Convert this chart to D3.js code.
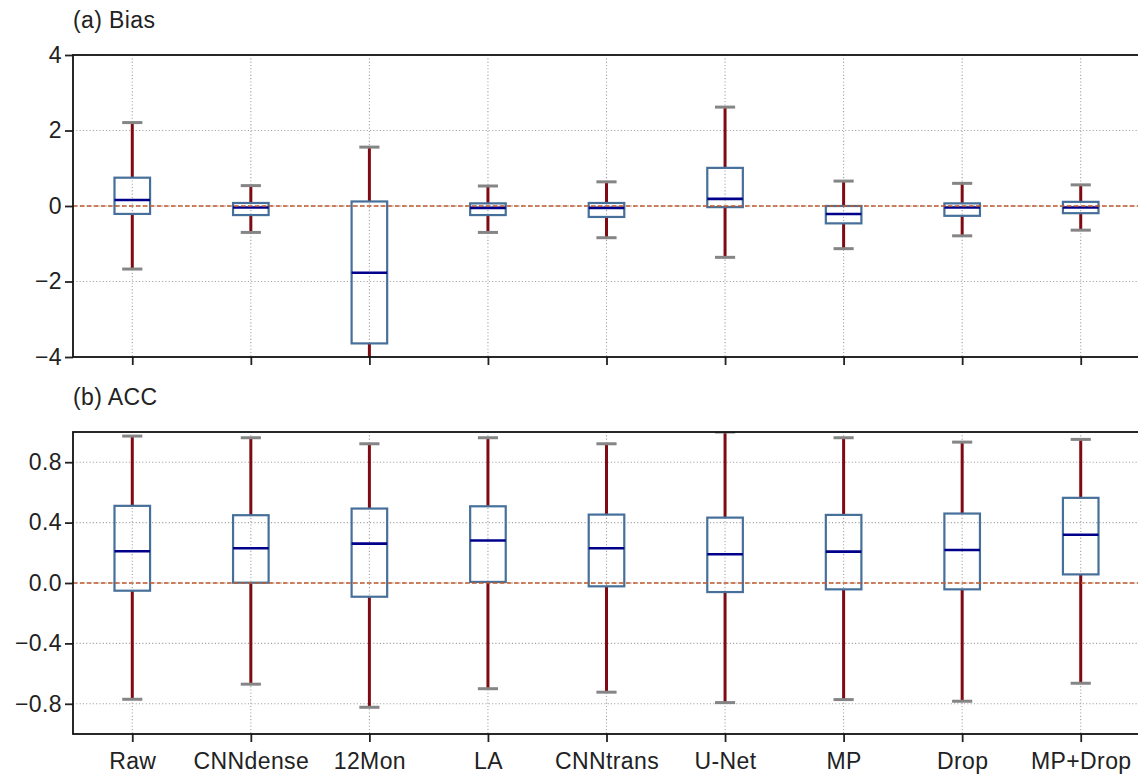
<!DOCTYPE html>
<html>
<head>
<meta charset="utf-8">
<script src="https://cdn.jsdelivr.net/npm/d3@7"></script>
<style>
	body { margin: 0; background: #fff; }
	svg { display: block; font-family: "Liberation Sans", Arial, sans-serif; }
</style>
</head>
<body>
<div id="graph"></div>
<script>
//model names along the x axis
var categories = ["Raw", "CNNdense", "12Mon", "LA", "CNNtrans", "U-Net", "MP", "Drop", "MP+Drop"];

//(a) Bias: lower whisker, quartiles, median, upper whisker
var biasLow  = [-1.67, -0.70, -5.20, -0.70, -0.84, -1.36, -1.13, -0.79, -0.64];
var biasQ1   = [-0.21, -0.24, -3.64, -0.24, -0.29, -0.03, -0.46, -0.26, -0.19];
var biasMed  = [ 0.16, -0.04, -1.77, -0.05, -0.05,  0.19, -0.21, -0.04, -0.04];
var biasQ3   = [ 0.75,  0.08,  0.12,  0.07,  0.08,  1.01,  0.00,  0.07,  0.11];
var biasHigh = [ 2.21,  0.54,  1.56,  0.53,  0.64,  2.62,  0.66,  0.60,  0.56];
var biasTicks = [-4, -2, 0, 2, 4];

//(b) ACC
var accLow  = [-0.770, -0.670, -0.823, -0.700, -0.723, -0.792, -0.772, -0.783, -0.664];
var accQ1   = [-0.051,  0.002, -0.091,  0.007, -0.022, -0.060, -0.042, -0.042,  0.057];
var accMed  = [ 0.210,  0.230,  0.261,  0.281,  0.230,  0.190,  0.208,  0.219,  0.320];
var accQ3   = [ 0.511,  0.449,  0.493,  0.508,  0.453,  0.433,  0.451,  0.460,  0.564];
var accHigh = [ 0.973,  0.962,  0.922,  0.962,  0.922,  1.000,  0.962,  0.933,  0.951];
var accTicks = [-0.8, -0.4, 0, 0.4, 0.8];

(function(){
	"use strict";

	var W = 1138, H = 776;
	var left = 73, right = 1140;
	var fontSize = 23;

	var svg = d3.select("#graph").append("svg")
		.attr("width", W)
		.attr("height", H);

	//same x positions for both panels
	var x = d3.scalePoint()
		.domain(categories)
		.range([left, right])
		.padding(0.5);
	var boxW = x.step() * 0.3;
	var capW = x.step() * 0.17;

	function panel(id, top, bottom, domain, ticks, fmt, title, low, q1, med, q3, high, showLabels) {
		var y = d3.scaleLinear().domain(domain).range([bottom, top]);
		var g = svg.append("g").attr("class", "panel-" + id);

		g.append("clipPath").attr("id", "clip-" + id)
			.append("rect")
			.attr("x", left).attr("y", top)
			.attr("width", right - left).attr("height", bottom - top);

		var plot = g.append("g").attr("clip-path", "url(#clip-" + id + ")");

		//dotted grid
		plot.selectAll(".hgrid")
			.data(ticks)
			.enter().append("line")
			.attr("x1", left).attr("x2", right)
			.attr("y1", function(d) { return y(d); })
			.attr("y2", function(d) { return y(d); })
			.attr("stroke", "#a0a0a0")
			.attr("stroke-width", 1.1)
			.attr("stroke-dasharray", "1.1,2.2");
		plot.selectAll(".vgrid")
			.data(categories)
			.enter().append("line")
			.attr("x1", function(d) { return x(d); })
			.attr("x2", function(d) { return x(d); })
			.attr("y1", top).attr("y2", bottom)
			.attr("stroke", "#a0a0a0")
			.attr("stroke-width", 1.1)
			.attr("stroke-dasharray", "1.1,2.2");

		var idx = d3.range(categories.length);
		var cx = function(i) { return x(categories[i]); };

		//whiskers from box to caps
		plot.selectAll(".whisk-lo")
			.data(idx)
			.enter().append("line")
			.attr("x1", cx).attr("x2", cx)
			.attr("y1", function(i) { return y(q1[i]); })
			.attr("y2", function(i) { return y(low[i]); })
			.attr("stroke", "#7f0a12")
			.attr("stroke-width", 3);
		plot.selectAll(".whisk-hi")
			.data(idx)
			.enter().append("line")
			.attr("x1", cx).attr("x2", cx)
			.attr("y1", function(i) { return y(q3[i]); })
			.attr("y2", function(i) { return y(high[i]); })
			.attr("stroke", "#7f0a12")
			.attr("stroke-width", 3);

		//caps
		[low, high].forEach(function(arr) {
			plot.selectAll(null)
				.data(idx)
				.enter().append("line")
				.attr("x1", function(i) { return cx(i) - capW / 2; })
				.attr("x2", function(i) { return cx(i) + capW / 2; })
				.attr("y1", function(i) { return y(arr[i]); })
				.attr("y2", function(i) { return y(arr[i]); })
				.attr("stroke", "#858585")
				.attr("stroke-width", 3);
		});

		//boxes
		plot.selectAll(".box")
			.data(idx)
			.enter().append("rect")
			.attr("x", function(i) { return cx(i) - boxW / 2; })
			.attr("y", function(i) { return y(q3[i]); })
			.attr("width", boxW)
			.attr("height", function(i) { return y(q1[i]) - y(q3[i]); })
			.attr("fill", "none")
			.attr("stroke", "#46709a")
			.attr("stroke-width", 2.2);

		//medians
		plot.selectAll(".med")
			.data(idx)
			.enter().append("line")
			.attr("x1", function(i) { return cx(i) - boxW / 2; })
			.attr("x2", function(i) { return cx(i) + boxW / 2; })
			.attr("y1", function(i) { return y(med[i]); })
			.attr("y2", function(i) { return y(med[i]); })
			.attr("stroke", "#00008b")
			.attr("stroke-width", 2.6);

		//zero reference line
		plot.append("line")
			.attr("x1", left).attr("x2", right)
			.attr("y1", y(0)).attr("y2", y(0))
			.attr("stroke", "#c05a2c")
			.attr("stroke-width", 1.3)
			.attr("stroke-dasharray", "4.5,2.5");

		//axes
		var ya = g.append("g")
			.attr("transform", "translate(" + left + ",0)")
			.call(d3.axisLeft(y).tickValues(ticks).tickFormat(fmt).tickSize(8).tickPadding(3));
		var xa = g.append("g")
			.attr("transform", "translate(0," + bottom + ")")
			.call(d3.axisBottom(x).tickSize(8).tickPadding(11));
		[ya, xa].forEach(function(a) {
			a.select(".domain").remove();
			a.selectAll(".tick line").attr("stroke", "#222").attr("stroke-width", 1.8);
			a.selectAll("text")
				.attr("fill", "#222")
				.style("font-size", fontSize + "px")
				.style("letter-spacing", "0.4px")
				.style("font-family", "'Liberation Sans', Arial, sans-serif");
		});
		if (!showLabels) xa.selectAll("text").remove();

		//frame
		g.append("rect")
			.attr("x", left).attr("y", top)
			.attr("width", right - left).attr("height", bottom - top)
			.attr("fill", "none")
			.attr("stroke", "#111")
			.attr("stroke-width", 1.8);

		g.append("text")
			.attr("x", left)
			.attr("y", top - 27)
			.attr("fill", "#222")
			.style("font-size", fontSize + "px")
			.style("letter-spacing", "0.4px")
			.text(title);
	}

	panel("a", 55, 357, [-4, 4], biasTicks, d3.format("d"), "(a) Bias",
		biasLow, biasQ1, biasMed, biasQ3, biasHigh, false);
	panel("b", 432, 734, [-1, 1], accTicks, d3.format(".1f"), "(b) ACC",
		accLow, accQ1, accMed, accQ3, accHigh, true);
})();
</script>
</body>
</html>
